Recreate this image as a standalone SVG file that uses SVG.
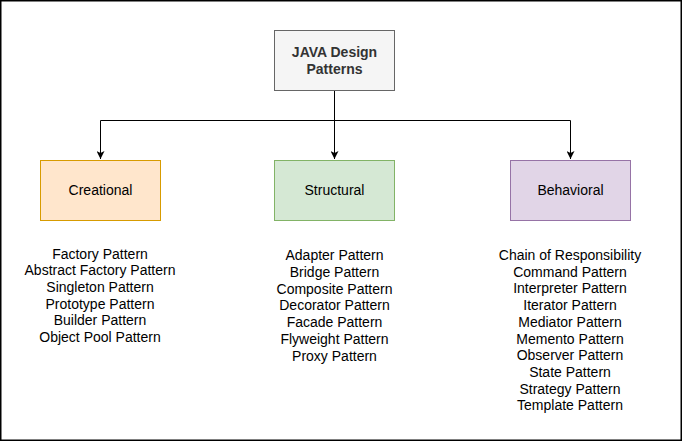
<svg xmlns="http://www.w3.org/2000/svg" width="682" height="441" viewBox="0 0 682 441">
<style>
text{font-family:"Liberation Sans",Arial,Helvetica,sans-serif;font-size:14px;fill:#000;text-anchor:middle}
.t{font-weight:bold;fill:#333}
.box{stroke-width:1}
.edge{fill:none;stroke:#000;stroke-width:1}
</style>
<defs>
<marker id="arr" viewBox="0 0 10 10" refX="10" refY="5" markerWidth="8" markerHeight="8" markerUnits="userSpaceOnUse" orient="auto">
<path d="M0,0 L10,5 L0,10 L2.5,5 Z" fill="#000"/>
</marker>
</defs>
<rect x="0.75" y="0.75" width="680.5" height="439.5" fill="#fff" stroke="#000" stroke-width="1.5"/>
<g id="connectors">
<path class="edge" d="M334.5,90 V159" marker-end="url(#arr)"/>
<path class="edge" d="M334.5,120.5 H100.5 V159" marker-end="url(#arr)"/>
<path class="edge" d="M334.5,120.5 H570.5 V159" marker-end="url(#arr)"/>
</g>
<g id="root">
<rect class="box" x="274.5" y="30.5" width="120" height="60" fill="#f5f5f5" stroke="#666666"/>
<text class="t" x="334.5" y="57">JAVA Design</text>
<text class="t" x="334.5" y="74">Patterns</text>
</g>
<g id="creational">
<rect class="box" x="40.5" y="160.5" width="120" height="60" fill="#ffe6cc" stroke="#d79b00"/>
<text x="100.5" y="195">Creational</text>
</g>
<g id="structural">
<rect class="box" x="274.5" y="160.5" width="120" height="60" fill="#d5e8d4" stroke="#82b366"/>
<text x="334.5" y="195">Structural</text>
</g>
<g id="behavioral">
<rect class="box" x="510.5" y="160.5" width="120" height="60" fill="#e1d5e7" stroke="#9673a6"/>
<text x="570.5" y="195">Behavioral</text>
</g>
<g id="creational-list">
<text x="100" y="258.5">Factory Pattern</text>
<text x="100" y="275.2">Abstract Factory Pattern</text>
<text x="100" y="291.9">Singleton Pattern</text>
<text x="100" y="308.6">Prototype Pattern</text>
<text x="100" y="325.3">Builder Pattern</text>
<text x="100" y="342">Object Pool Pattern</text>
</g>
<g id="structural-list">
<text x="334.5" y="260">Adapter Pattern</text>
<text x="334.5" y="276.8">Bridge Pattern</text>
<text x="334.5" y="293.6">Composite Pattern</text>
<text x="334.5" y="310.4">Decorator Pattern</text>
<text x="334.5" y="327.2">Facade Pattern</text>
<text x="334.5" y="344">Flyweight Pattern</text>
<text x="334.5" y="360.8">Proxy Pattern</text>
</g>
<g id="behavioral-list">
<text x="570" y="260">Chain of Responsibility</text>
<text x="570" y="276.7">Command Pattern</text>
<text x="570" y="293.4">Interpreter Pattern</text>
<text x="570" y="310.1">Iterator Pattern</text>
<text x="570" y="326.8">Mediator Pattern</text>
<text x="570" y="343.5">Memento Pattern</text>
<text x="570" y="360.2">Observer Pattern</text>
<text x="570" y="376.9">State Pattern</text>
<text x="570" y="393.6">Strategy Pattern</text>
<text x="570" y="410.3">Template Pattern</text>
</g>
</svg>
